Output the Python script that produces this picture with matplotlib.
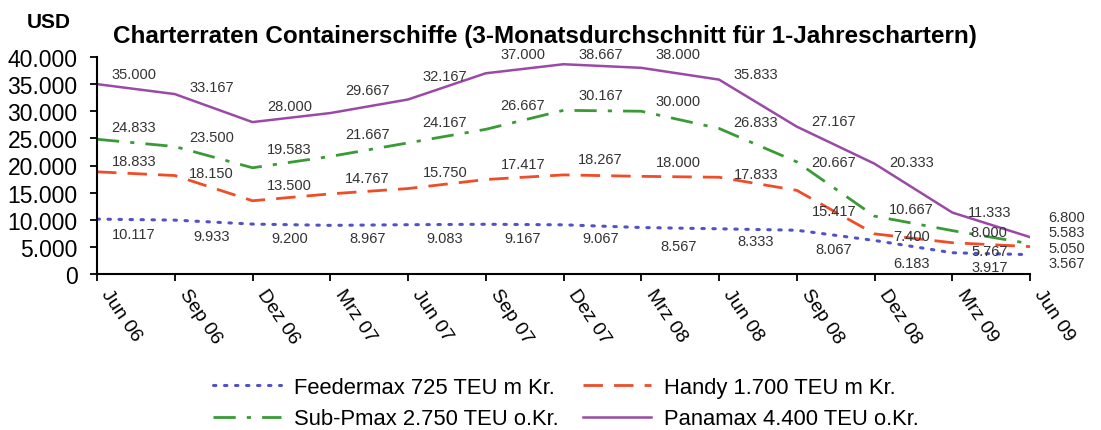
import numpy as np
import matplotlib
matplotlib.use("Agg")
import matplotlib.pyplot as plt

plt.rcParams['font.family'] = ['Liberation Sans', 'DejaVu Sans']

months = ["Jun 06", "Sep 06", "Dez 06", "Mrz 07", "Jun 07", "Sep 07", "Dez 07",
          "Mrz 08", "Jun 08", "Sep 08", "Dez 08", "Mrz 09", "Jun 09"]

feedermax = [10117, 9933, 9200, 8967, 9083, 9167, 9067, 8567, 8333, 8067, 6183, 3917, 3567]
handy = [18833, 18150, 13500, 14767, 15750, 17417, 18267, 18000, 17833, 15417, 7400, 5767, 5050]
sub_pmax = [24833, 23500, 19583, 21667, 24167, 26667, 30167, 30000, 26833, 20667, 10667, 8000, 5583]
panamax = [35000, 33167, 28000, 29667, 32167, 37000, 38667, 38000, 35833, 27167, 20333, 11333, 6800]

names = ["Feedermax 725 TEU m Kr.", "Handy 1.700 TEU m Kr.",
         "Sub-Pmax 2.750 TEU o.Kr.", "Panamax 4.400 TEU o.Kr."]

# label offsets in pixels (dy up) for each point
label_dy = {
    "feeder": [-15, -16, -14, -13, -13, -14, -13, -18, -12, -19, -23, -14, -8],
    "handy": [11, 3, 16, 16, 17, 16, 16, 14, 3, -21, -2, -8, -1],
    "sub": [12, 10, 19, 22, 21, 24, 15, 10, 6, 0, 7, -1, 12],
    "pana": [10, 7, 16, 23, 23, 19, 10, 14, 6, 6, 2, 1, 20],
}


def fmt(v):
    return f"{v:,}".replace(",", ".")


W, H = 1101, 431
fig = plt.figure(figsize=(W / 100, H / 100), dpi=100)
ax = fig.add_axes([97 / W, 1 - 275 / H, (1030 - 97) / W, (275 - 58) / H])

x = np.arange(len(months))
l1, = ax.plot(x, feedermax, color="#5252c8", lw=2.2, linestyle=(0, (0.8, 2.8)),
              dash_capstyle="round")
l2, = ax.plot(x, handy, color="#ee4d27", lw=2.0, linestyle=(0, (7, 4)))
l3, = ax.plot(x, sub_pmax, color="#3a9a36", lw=2.0, linestyle=(0, (8, 4, 1.5, 4)))
l4, = ax.plot(x, panamax, color="#9a4aa6", lw=1.8)

series = [(feedermax, "feeder"), (handy, "handy"), (sub_pmax, "sub"), (panamax, "pana")]
for vals, key in series:
    for i, v in enumerate(vals):
        ax.annotate(fmt(v), (x[i], v), xytext=(37, label_dy[key][i]),
                    textcoords="offset pixels", ha="center", va="center",
                    fontsize=10.5, color="#333333", annotation_clip=False)

ax.set_xlim(0, 12)
ax.set_ylim(0, 40000)
ax.set_yticks(np.arange(0, 40001, 5000))
ax.set_yticklabels([fmt(v) for v in range(0, 40001, 5000)], fontsize=16.5)
ax.set_xticks(x)
ax.set_xticklabels([])
for i, m in enumerate(months):
    ax.annotate(m, (x[i], 0), xytext=(8, -16), textcoords="offset pixels",
                rotation=-56, rotation_mode="anchor", ha="left", va="center",
                fontsize=14, annotation_clip=False)

for s in ["top", "right"]:
    ax.spines[s].set_visible(False)
for s in ["left", "bottom"]:
    ax.spines[s].set_linewidth(1.5)
ax.tick_params(axis="both", direction="out", length=5, width=1.3)
ax.tick_params(axis="y", pad=9)

fig.text(27 / W, 1 - 22 / H, "USD", fontsize=15, fontweight="bold", va="center", ha="left")
fig.text(113 / W, 1 - 36 / H,
         "Charterraten Containerschiffe (3-Monatsdurchschnitt für 1-Jahreschartern)",
         fontsize=17.5, fontweight="bold", va="center", ha="left")

fig.legend([l1, l3, l2, l4], [names[0], names[2], names[1], names[3]], ncol=2,
           loc="center", bbox_to_anchor=(566 / W, 1 - 404 / H), frameon=False,
           fontsize=15.8, handlelength=3.1, handletextpad=0.6, columnspacing=1.1,
           labelspacing=0.5, borderpad=0)

fig.savefig("out.png", dpi=100)
